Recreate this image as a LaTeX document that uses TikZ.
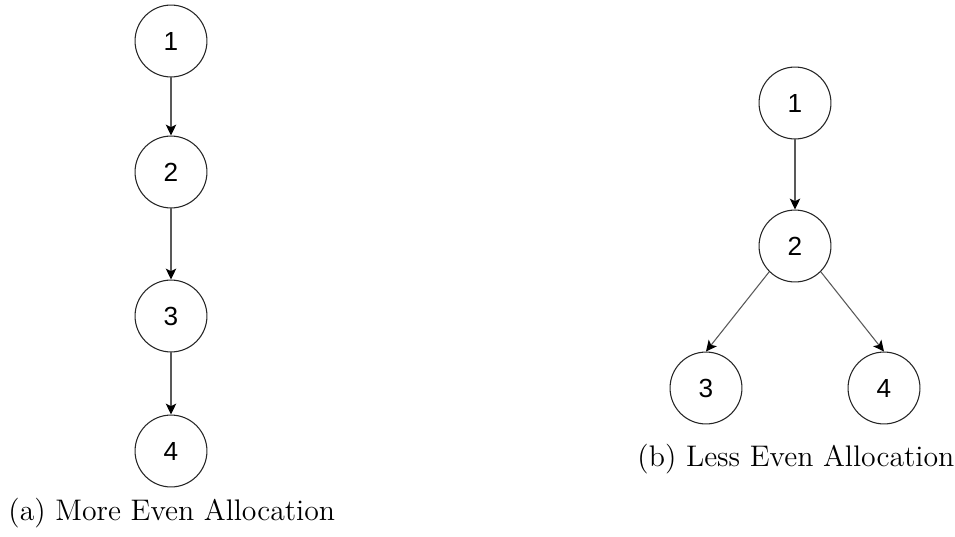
\documentclass[tikz,border=0pt]{standalone}
\usepackage{fontspec}
\newfontfamily\digitfont{Liberation Sans}
\usepackage{tikz}
\usetikzlibrary{arrows.meta}

\begin{document}
\begin{tikzpicture}[
x=0.42pt,
y=-0.42pt,
vertex/.style={circle,draw=black!85,line width=0.45pt,minimum size=30.2pt,inner sep=0pt,font=\digitfont\fontsize{11}{13}\selectfont},
arr/.style={-{Stealth[length=4.6pt,width=4.4pt,inset=1.1pt,black]},draw=black!65,line width=0.45pt},
capt/.style={anchor=west,inner sep=0pt,font=\fontsize{12.5}{14}\selectfont}
]
\useasboundingbox (0,0) rectangle (955,536);
% (a) chain
\node[vertex] (a1) at (171,41) {1};
\node[vertex] (a2) at (171,172) {2};
\node[vertex] (a3) at (171,316) {3};
\node[vertex] (a4) at (171,451) {4};
\node[capt] (capa) at (8,513) {(a) More Even Allocation};
% (b) branching
\node[vertex] (b1) at (795,103) {1};
\node[vertex] (b2) at (795,246) {2};
\node[vertex] (b3) at (706,388) {3};
\node[vertex] (b4) at (884,388) {4};
\node[capt] (capb) at (637,459) {(b) Less Even Allocation};

\draw[arr] (a1) -- (a2);
\draw[arr] (a2) -- (a3);
\draw[arr] (a3) -- (a4);
\draw[arr] (b1) -- (b2);
\draw[arr] (b2.south west) -- (b3.north);
\draw[arr] (b2.south east) -- (b4.north);
\end{tikzpicture}
\end{document}
